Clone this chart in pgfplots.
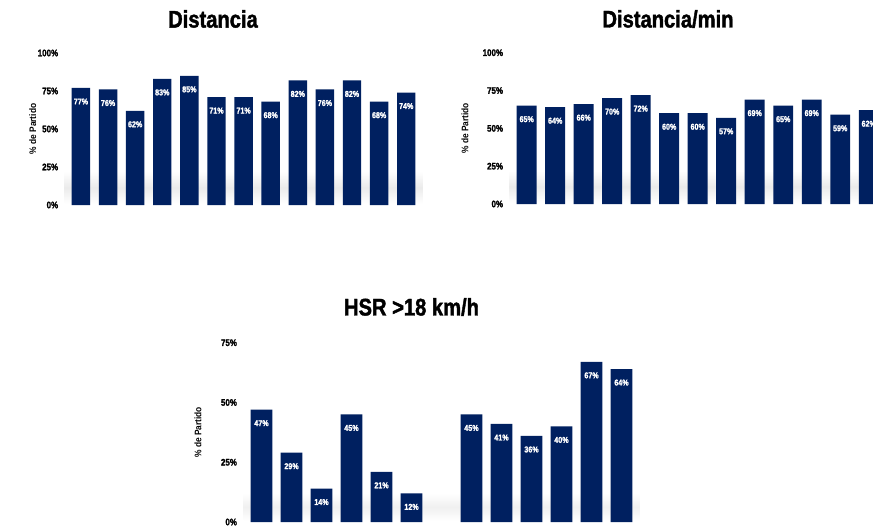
\documentclass[border=0pt]{standalone}
\usepackage{fontspec}
\setmainfont{Liberation Sans}
\newfontfamily\heavy[FakeStretch=0.88]{Liberation Sans}
\newfontfamily\display[FakeStretch=0.84, FakeBold=1.6]{Liberation Sans}
\usepackage{pgfplots}
\pgfplotsset{compat=1.18}

\definecolor{barnavy}{RGB}{0,32,96}

% per-match values, in percent
\pgfplotstableread{
x  y
0  77
1  76
2  62
3  83
4  85
5  71
6  71
7  68
8  82
9  76
10 82
11 68
12 74
}\distancia
\pgfplotstableread{
x  y
0  65
1  64
2  66
3  70
4  72
5  60
6  60
7  57
8  69
9  65
10 69
11 59
12 62
}\distmin
\pgfplotstableread{
x  y
0  47
1  29
2  14
3  45
4  21
5  12
7  45
8  41
9  36
10 40
11 67
12 64
}\hsr

\pgfplotsset{
  panel/.style={
    scale only axis, anchor=south west,
    ybar, bar shift=0pt,
    axis line style={draw=none},
    major tick style={draw=none},
    xtick=\empty, ymin=0,
    ytick distance=25,
    yticklabel={\pgfmathprintnumber{\tick}\%},
    /pgf/number format/assume math mode=true,
    yticklabel style={font=\display\bfseries\fontsize{9.5}{10}\selectfont, xshift=-3pt},
    ylabel={\% de Partido},
    ylabel style={font=\heavy\bfseries\fontsize{9.5}{10}\selectfont, anchor=center},
    nodes near coords={\pgfmathprintnumber{\pgfplotspointmeta}\%},
    every node near coord/.append style={
      text=white, anchor=north, yshift=-7pt,
      font=\display\bfseries\fontsize{8.5}{9}\selectfont},
  },
  navybar/.style={fill=barnavy, draw=none},
}

\begin{document}
\begin{tikzpicture}
\useasboundingbox (0pt,0pt) rectangle (873pt,-531pt);

% titles
\node[font=\display\bfseries\fontsize{24}{26}\selectfont] at (213pt,-19pt) {Distancia};
\node[font=\display\bfseries\fontsize{24}{26}\selectfont] at (668pt,-19pt) {Distancia/min};
\node[font=\display\bfseries\fontsize{24}{26}\selectfont] at (411.5pt,-307pt) {HSR >18 km/h};

% Distancia
\begin{axis}[panel, at={(64.7pt,-205pt)}, width=357.8pt, height=152pt,
  xmin=-0.6, xmax=12.6, ymax=100, bar width=0.68,
  ylabel style={at={(axis description cs:-0.089,0.5)}}]
  \shade[top color=white, bottom color=white, middle color=gray!16]
    (axis cs:-0.6,1) rectangle (axis cs:12.6,22);
  \addplot[navybar] table[x=x, y=y] {\distancia};
\end{axis}

% Distancia/min
\begin{axis}[panel, at={(509.6pt,-204pt)}, width=363.4pt, height=151.3pt,
  xmin=-0.6, xmax=12.15, ymax=100, bar width=0.70,
  ylabel style={at={(axis description cs:-0.123,0.5)}}]
  \shade[top color=white, bottom color=white, middle color=gray!16]
    (axis cs:-0.6,1) rectangle (axis cs:12.15,22);
  \addplot[navybar] table[x=x, y=y] {\distmin};
\end{axis}

% HSR >18 km/h
\begin{axis}[panel, at={(243.5pt,-522pt)}, width=396pt, height=179.3pt,
  xmin=-0.6, xmax=12.6, ymax=75, bar width=0.72,
  ylabel style={at={(axis description cs:-0.115,0.5)}}]
  \shade[top color=white, bottom color=white, middle color=gray!12]
    (axis cs:-0.6,0.5) rectangle (axis cs:12.6,12);
  \addplot[navybar] table[x=x, y=y] {\hsr};
\end{axis}
\end{tikzpicture}
\end{document}
